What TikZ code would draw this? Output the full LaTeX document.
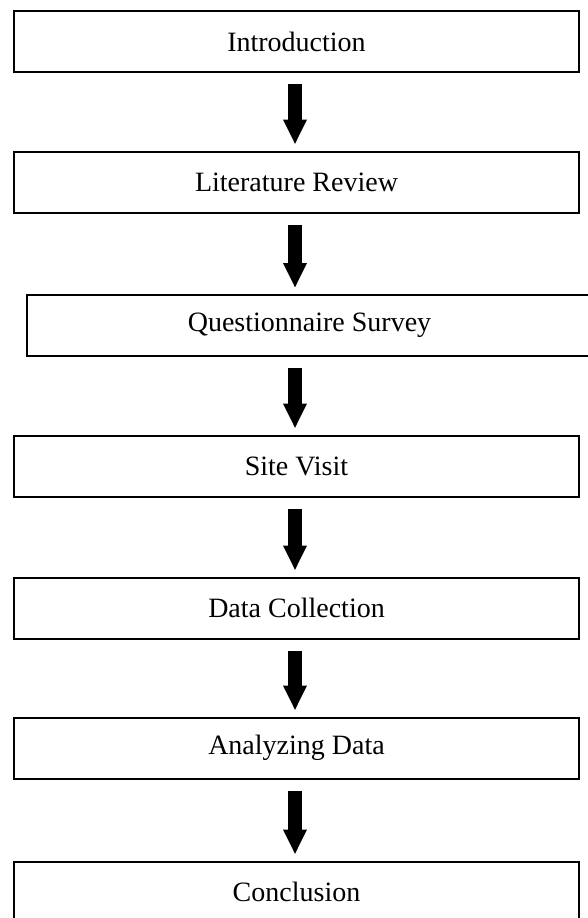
\documentclass[tikz,border=0pt]{standalone}
\usepackage{fontspec}
\setmainfont{Liberation Serif}
\usetikzlibrary{arrows.meta,calc}
\begin{document}
\begin{tikzpicture}[x=1pt,y=1pt,
  stagebox/.style={draw=black, line width=2pt, fill=white, minimum width=565pt, minimum height=61pt, inner sep=0pt,
    font=\fontsize{28}{31}\selectfont},
  bigarrow/.style={line width=14pt, -{Triangle[width=22pt,length=25pt]}}]
\clip (0,0) rectangle (588,-918);
\fill[white] (0,0) rectangle (588,-918);
\coordinate (ax) at (295,0);
\node[stagebox] (intro) at (296.5,-41.5) {Introduction};
\node[stagebox] (lit) at (296.5,-182) {Literature Review};
\node[stagebox] (quest) at (309.5,-325.5) {Questionnaire Survey};
\node[stagebox] (site) at (296.5,-466) {Site Visit};
\node[stagebox] (data) at (296.5,-608) {Data Collection};
\node[stagebox] (anal) at (296.5,-748) {Analyzing Data};
\node[stagebox] (concl) at (296.5,-892) {Conclusion};
\foreach \a/\b in {intro/lit, lit/quest, quest/site, site/data, data/anal, anal/concl}{
  \draw[bigarrow] ($(\a.south -| ax)+(0,-11)$) -- ($(\b.north -| ax)+(0,6)$);
}
\end{tikzpicture}
\end{document}
